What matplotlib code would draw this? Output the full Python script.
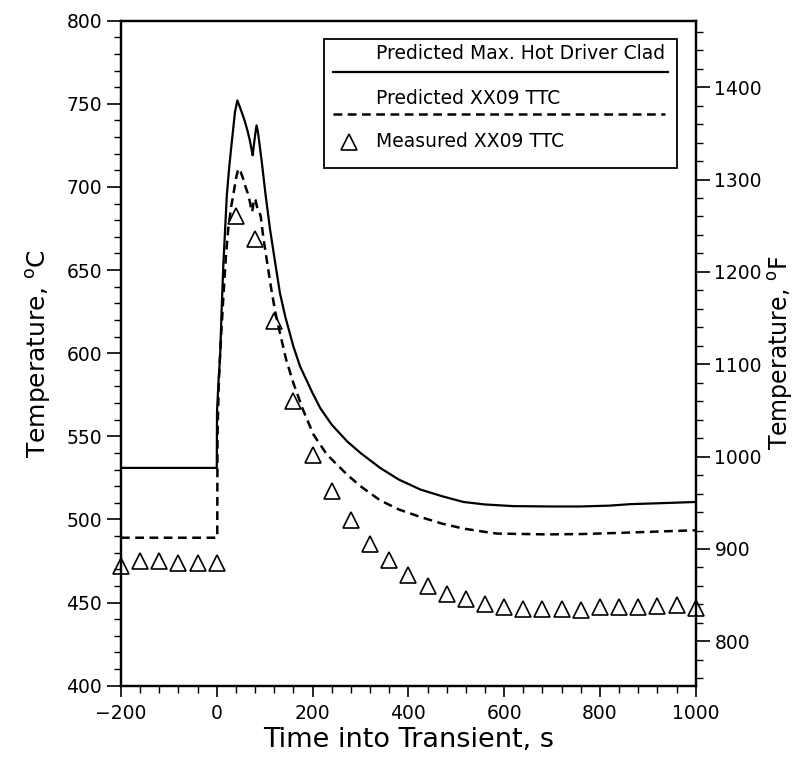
import numpy as np
import matplotlib.pyplot as plt
from matplotlib.patches import Rectangle
from matplotlib.ticker import MultipleLocator

# predicted max hot driver clad temperature, C
clad_time = [-200, 0, 0.5, 4, 7, 10, 14, 21, 26, 31, 38, 43, 47, 52, 58, 64, 69, 73, 75,
             77, 80, 83, 86, 90, 94, 102, 111, 120, 132, 143, 160, 174, 200, 216, 240,
             272, 300, 341, 380, 425, 470, 515, 560, 620, 700, 760, 820, 864, 930, 1000]
clad_temp = [531, 531, 565, 585, 598, 625, 655, 695, 712, 726, 745, 752, 749, 745, 740, 734,
             728, 722, 719, 724, 731, 737, 733, 724, 715, 695, 675, 658, 636, 622, 604, 592,
             576, 567, 557, 547, 540, 531, 524, 518, 514, 510.5, 509, 508, 507.8, 507.8,
             508.3, 509.2, 509.8, 510.5]

# predicted XX09 TTC temperature, C
ttc_time = [-200, 1, 1.5, 4, 7, 10, 14, 19, 24, 30, 35, 40, 45, 50, 55, 60, 65, 70, 72,
            74, 76, 78, 81, 84, 88, 92, 97, 105, 113, 122, 132, 145, 160, 180, 202, 230,
            272, 300, 341, 380, 425, 470, 515, 560, 585, 690, 760, 829, 900, 1000]
ttc_temp = [489, 489, 550, 580, 600, 615, 635, 658, 675, 688, 696, 705, 711, 709, 705, 700,
            696, 690, 686, 685, 689, 693, 692, 688, 686, 682, 670, 655, 640, 625, 612, 596,
            582, 566, 551, 539, 527, 520, 511.5, 506, 501.5, 497.5, 494.5, 492.5, 491.5,
            491, 491.2, 491.8, 492.5, 493.5]

# measured XX09 TTC, C
meas_time = [-200, -160, -120, -80, -40, 0, 40, 80, 120, 160, 200, 240, 280, 320, 360, 400,
             440, 480, 520, 560, 600, 640, 680, 720, 760, 800, 840, 880, 920, 960, 1000]
meas_temp = [472, 475, 475, 474, 474, 474, 682.5, 668.5, 619.5, 571.5, 539, 517, 499.5,
             485.5, 475.4, 466.4, 459.8, 454.9, 452, 449, 447.4, 446.4, 446.4, 446.4, 445.8,
             447.4, 447.4, 447.4, 447.8, 448.4, 447]

legend_labels = ['Predicted Max. Hot Driver Clad', 'Predicted XX09 TTC', 'Measured XX09 TTC']

plt.rcParams['font.family'] = ['DejaVu Sans']

fig = plt.figure(figsize=(7.97, 7.57), dpi=100)
ax = fig.add_axes([0.1518, 0.0942, 0.7211, 0.8785])

ax.plot(clad_time, clad_temp, color='black', lw=1.6)
ax.plot(ttc_time, ttc_temp, color='black', lw=1.8, dashes=(3.5, 2.2))
ax.plot(meas_time, meas_temp, ls='none', marker='^', ms=12, mfc='none', mec='black',
        mew=1.2, clip_on=False)

ax.set_xlim(-200, 1000)
ax.set_ylim(400, 800)
ax.xaxis.set_major_locator(MultipleLocator(200))
ax.xaxis.set_minor_locator(MultipleLocator(40))
ax.yaxis.set_major_locator(MultipleLocator(50))
ax.yaxis.set_minor_locator(MultipleLocator(10))
ax.tick_params(which='major', direction='out', length=10, width=1.2, labelsize=13.5,
               top=False, right=False)
ax.tick_params(which='minor', direction='out', length=5, width=1, top=False, right=False)
ax.tick_params(axis='x', which='major', length=8, pad=5)
for s in ax.spines.values():
    s.set_linewidth(1.6)

ax.set_xlabel('Time into Transient, s', fontsize=19.5, labelpad=3)
ax.set_ylabel(r'Temperature, $^{\rm o}$C', fontsize=18, labelpad=10)

# Fahrenheit axis
ax2 = ax.twinx()
ax2.set_ylim(400 * 1.8 + 32, 800 * 1.8 + 32)
ax2.yaxis.set_major_locator(MultipleLocator(100))
ax2.yaxis.set_minor_locator(MultipleLocator(20))
ax2.set_yticks(range(800, 1401, 100))
ax2.tick_params(which='major', direction='out', length=10, width=1.2, labelsize=13.5)
ax2.tick_params(which='minor', direction='out', length=5, width=1)
ax2.set_ylabel(r'Temperature, $^{\rm o}$F', fontsize=17, labelpad=3)
for s in ax2.spines.values():
    s.set_linewidth(1.6)

# legend box, text above line sample
tr = ax.transAxes
ax.add_patch(Rectangle((0.353, 0.778), 0.614, 0.194, transform=tr, fill=False,
                       lw=1.3, ec='black', zorder=5))
ax.text(0.444, 0.951, legend_labels[0], transform=tr, fontsize=13.5, va='center')
ax.plot([0.369, 0.952], [0.923, 0.923], transform=tr, color='black', lw=1.6)
ax.text(0.444, 0.883, legend_labels[1], transform=tr, fontsize=13.5, va='center')
ax.plot([0.369, 0.947], [0.859, 0.859], transform=tr, color='black', lw=1.8,
        dashes=(3.5, 2.2))
ax.plot([0.396], [0.818], transform=tr, ls='none', marker='^', ms=12, mfc='none',
        mec='black', mew=1.2)
ax.text(0.444, 0.818, legend_labels[2], transform=tr, fontsize=13.5, va='center')

fig.savefig('out.png', dpi=100)
